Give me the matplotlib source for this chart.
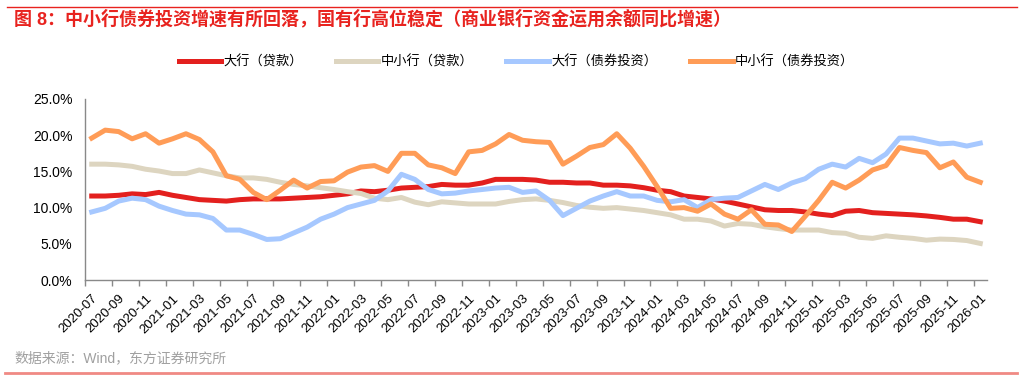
import matplotlib.pyplot as plt
import numpy as np
import pandas as pd
from matplotlib.lines import Line2D
from matplotlib.ticker import FuncFormatter

plt.rcParams['font.family'] = ['Liberation Sans', 'Noto Sans CJK SC']

# monthly, 2020-07 .. 2026-01
months = pd.period_range('2020-07', '2026-01', freq='M').strftime('%Y-%m').tolist()

bigLoans = [11.6, 11.6, 11.7, 11.9, 11.8, 12.1,
            11.7, 11.4, 11.1, 11.0, 10.9, 11.1, 11.2, 11.2, 11.2, 11.3, 11.4, 11.5,
            11.7, 11.9, 12.3, 12.2, 12.4, 12.7, 12.8, 12.9, 13.2, 13.1, 13.1, 13.4,
            13.9, 13.9, 13.9, 13.8, 13.5, 13.5, 13.4, 13.4, 13.1, 13.1, 13.0, 12.75,
            12.4, 12.2, 11.6, 11.4, 11.2, 10.9, 10.5, 10.1, 9.7, 9.6, 9.6, 9.4,
            9.1, 8.9, 9.5, 9.6, 9.3, 9.2, 9.1, 9.0, 8.85, 8.65, 8.4, 8.4,
            8.05]
smallLoans = [16.0, 16.0, 15.9, 15.7, 15.3, 15.05,
              14.7, 14.7, 15.2, 14.8, 14.4, 14.1, 14.1, 13.9, 13.5, 13.2, 13.0, 12.75,
              12.5, 12.2, 11.95, 11.3, 11.1, 11.4, 10.75, 10.4, 10.8, 10.65, 10.5, 10.5,
              10.5, 10.85, 11.1, 11.2, 11.0, 10.7, 10.3, 10.05, 9.9, 10.0, 9.8, 9.6,
              9.3, 9.0, 8.4, 8.4, 8.15, 7.45, 7.8, 7.7, 7.35, 7.1, 6.9, 6.9,
              6.9, 6.55, 6.45, 5.9, 5.75, 6.1, 5.9, 5.75, 5.5, 5.65, 5.6, 5.45,
              5.05]
bigBonds = [9.4, 9.9, 10.9, 11.3, 11.1, 10.2,
            9.6, 9.1, 9.0, 8.5, 6.9, 6.9, 6.3, 5.6, 5.7, 6.5, 7.3, 8.4,
            9.1, 10.0, 10.5, 11.0, 12.3, 14.6, 13.9, 12.5, 11.9, 12.0, 12.3, 12.5,
            12.7, 12.8, 12.1, 12.3, 11.0, 8.9, 9.9, 10.9, 11.6, 12.2, 11.6, 11.6,
            11.0, 10.8, 11.1, 10.0, 11.1, 11.3, 11.4, 12.3, 13.2, 12.5, 13.4, 14.0,
            15.3, 16.0, 15.6, 16.8, 16.2, 17.4, 19.6, 19.6, 19.2, 18.8, 18.9, 18.5,
            18.9]
smallBonds = [19.6, 20.7, 20.5, 19.5, 20.2, 18.9,
              19.5, 20.2, 19.4, 17.7, 14.4, 13.9, 12.1, 11.1, 12.4, 13.8, 12.7, 13.6,
              13.7, 14.9, 15.6, 15.8, 15.0, 17.5, 17.5, 15.9, 15.5, 14.7, 17.7, 17.9,
              18.8, 20.1, 19.3, 19.1, 19.0, 16.0, 17.1, 18.3, 18.7, 20.2, 18.2, 15.7,
              12.9, 9.9, 10.0, 9.5, 10.5, 9.1, 8.4, 9.7, 7.7, 7.6, 6.7, 8.8,
              11.0, 13.5, 12.7, 13.8, 15.2, 15.8, 18.3, 17.9, 17.6, 15.5, 16.3, 14.2,
              13.5]

seriesNames = ['大行（贷款）', '中小行（贷款）', '大行（债券投资）', '中小行（债券投资）']
seriesColors = ['#E3201E', '#DDD5C0', '#A6C8FF', '#FF9C57']

title = '图 8：中小行债券投资增速有所回落，国有行高位稳定（商业银行资金运用余额同比增速）'
source = '数据来源：Wind，东方证券研究所'

fig = plt.figure(figsize=(10.33, 3.79), dpi=100)
ax = fig.add_axes([85 / 1033, 1 - 280 / 379, (987 - 85) / 1033, (280 - 99) / 379])

x = np.arange(len(months))
for vals, name, color in zip([bigLoans, smallLoans, bigBonds, smallBonds], seriesNames, seriesColors):
    ax.plot(x, vals, color=color, lw=3.6, label=name)

ax.set_xlim(-0.5, len(months) - 0.5)
ax.set_ylim(0, 25)
ax.set_yticks(np.arange(0, 26, 5))
ax.yaxis.set_major_formatter(FuncFormatter(lambda v, p: '%.1f%%' % v))
ax.tick_params(axis='y', length=0, pad=9, labelsize=10)

ax.set_xticks(x[::2])
ax.set_xticklabels(months[::2], rotation=45, ha='right', rotation_mode='anchor', fontsize=9.5)
ax.set_xticks(np.arange(-0.5, len(months), 2), minor=True)
ax.tick_params(axis='x', which='major', length=0, pad=9)
ax.tick_params(axis='x', which='minor', length=4, color='#898989', width=1)

for side in ['top', 'right']:
    ax.spines[side].set_visible(False)
for side in ['left', 'bottom']:
    ax.spines[side].set_color('#898989')
    ax.spines[side].set_linewidth(1)

fig.legend(loc='center', bbox_to_anchor=(0.5, 1 - 62 / 379), ncol=4, frameon=False,
           fontsize=9.5, handlelength=3.2, handletextpad=0.2, columnspacing=2.5)

fig.text(14 / 1033, 1 - 19 / 379, title, color='#E8231F', fontsize=13, fontweight='bold', va='center')
fig.text(14 / 1033, 1 - 358 / 379, source, color='#A0A0A0', fontsize=10, va='center')
fig.add_artist(Line2D([7 / 1033, 1017 / 1033], [1 - 7 / 379] * 2, color='#E8231F', lw=1))
fig.add_artist(Line2D([5 / 1033, 1017 / 1033], [1 - 373 / 379] * 2, color='#F08A84', lw=2))

fig.savefig('out.png', dpi=100)
